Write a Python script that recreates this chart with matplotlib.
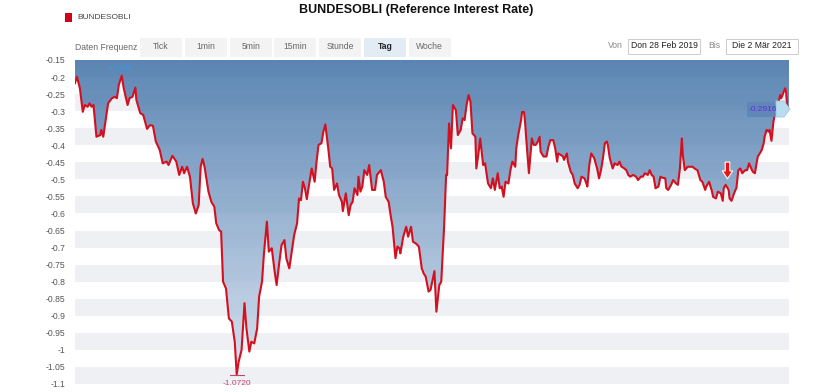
import matplotlib
matplotlib.use("Agg")
import matplotlib.pyplot as plt
import numpy as np
from matplotlib.patches import Rectangle, Polygon
from matplotlib.path import Path

plt.rcParams['font.family'] = ['Liberation Sans', 'DejaVu Sans']

# ---------------- data ----------------
title = "BUNDESOBLI (Reference Interest Rate)"
series_name = "BUNDESOBLI"
start_date = "2019-02-28"
end_date = "2021-03-02"

# day offsets from start_date
day_offsets = [
    0, 2, 5, 8, 10, 13, 15, 17, 19, 22, 26, 27, 29, 32, 34, 38, 41, 43, 45, 48,
    50, 54, 56, 59, 62, 63, 67, 70, 74, 77, 80, 83, 87, 90, 94, 96, 100, 104, 107, 110,
    112, 115, 118, 121, 124, 127, 129, 131, 133, 137, 140, 143, 145, 148,
    150, 152, 155, 158, 161, 164, 166, 168, 171, 174, 176, 179, 181, 184, 187, 189, 192, 194, 197, 199,
    202, 205, 207, 209, 212, 215, 217, 220, 222, 225, 228, 230, 232, 234, 236, 238, 240, 243, 246, 248,
    250, 253, 255, 257, 260, 262, 264, 266, 269, 271, 274, 275, 278, 281, 283, 285, 287, 290, 291, 293,
    295, 297,
    300, 302, 305, 308, 310, 314, 317, 319, 322, 324, 326, 329, 331, 333, 334, 337, 340, 342, 345, 347,
    350, 353, 356, 358, 360, 363, 365, 369, 371, 374, 376, 379, 381, 382, 384, 386, 388, 391, 393, 396,
    398, 400, 402, 404, 406, 408, 411, 412, 414, 416, 419, 421, 424, 427, 429, 431, 434, 436,
    438, 440, 442, 445, 447, 449, 452, 453, 455, 458, 459, 461, 462, 464, 466, 469, 471, 473, 475, 477,
    478, 481, 484, 486, 488, 491, 493, 495, 496, 499, 501, 502, 505, 506, 509, 511, 513, 516, 518, 520,
    523, 525, 526, 528, 530, 533, 536, 538, 540, 542, 544, 546, 547, 549, 552, 554, 557, 559, 561, 563,
    566, 568, 570, 573, 576, 578, 581,
    583, 585, 588, 590, 592, 594, 596, 599, 601, 603, 606, 607, 609, 612, 614, 617, 619, 621, 623, 624,
    626, 629, 631, 634, 636, 639, 642, 644, 647, 648, 651, 654, 655, 658, 660, 663, 665, 666, 668, 671,
    672, 674, 676, 678, 679, 681, 683, 685, 688, 690, 692, 695, 696, 698, 700, 701, 703, 705, 707, 708,
    710, 712, 713, 715, 717, 719, 720, 722, 724, 725, 727, 729, 730, 731, 733,
]

rates = [
    -0.218, -0.199, -0.233, -0.302, -0.282, -0.287, -0.277, -0.287, -0.282, -0.375,
    -0.370, -0.355, -0.375, -0.316, -0.277, -0.262, -0.258, -0.262, -0.223, -0.196,
    -0.233, -0.282, -0.262, -0.258, -0.231, -0.267, -0.306, -0.311, -0.352, -0.341,
    -0.343, -0.389, -0.414, -0.453, -0.448, -0.458, -0.431, -0.448, -0.487, -0.463,
    -0.482, -0.463, -0.492, -0.570, -0.600, -0.575, -0.463, -0.440, -0.463, -0.536,
    -0.566, -0.580, -0.629, -0.649,
    -0.653, -0.800, -0.820, -0.908, -0.917, -0.976, -1.072, -1.035, -1.000, -0.863,
    -0.937, -1.005, -0.976, -0.981, -0.937, -0.844, -0.800, -0.717, -0.624, -0.712,
    -0.702, -0.771, -0.810, -0.761, -0.693, -0.678, -0.732, -0.761, -0.722, -0.663,
    -0.629, -0.556, -0.561, -0.507, -0.526, -0.558, -0.521, -0.468, -0.507, -0.448,
    -0.399, -0.394, -0.360, -0.339, -0.409, -0.463, -0.468, -0.531, -0.512, -0.546,
    -0.566, -0.593, -0.541, -0.605, -0.575, -0.566, -0.526, -0.546, -0.492, -0.536,
    -0.521, -0.473,
    -0.487, -0.458, -0.531, -0.531, -0.487, -0.473, -0.507, -0.551, -0.566, -0.605,
    -0.639, -0.731, -0.697, -0.702, -0.717, -0.668, -0.639, -0.668, -0.639, -0.683,
    -0.688, -0.697, -0.761, -0.776, -0.785, -0.829, -0.824, -0.769, -0.888, -0.810,
    -0.800, -0.634, -0.487, -0.487, -0.336, -0.409, -0.282, -0.297, -0.370, -0.355,
    -0.321, -0.326, -0.282, -0.253, -0.272, -0.365, -0.375, -0.468, -0.429, -0.380,
    -0.458, -0.453, -0.512, -0.526, -0.497, -0.531, -0.482, -0.526,
    -0.521, -0.551, -0.507, -0.512, -0.473, -0.448, -0.463, -0.409, -0.370, -0.326,
    -0.302, -0.303, -0.331, -0.409, -0.482, -0.380, -0.399, -0.399, -0.390, -0.375,
    -0.419, -0.433, -0.433, -0.404, -0.385, -0.385, -0.409, -0.448, -0.424, -0.429,
    -0.433, -0.443, -0.424, -0.448, -0.478, -0.487, -0.512, -0.526, -0.516, -0.492,
    -0.497, -0.512, -0.521, -0.458, -0.424, -0.438, -0.468, -0.497, -0.473, -0.438,
    -0.394, -0.389, -0.399, -0.438, -0.468, -0.453, -0.458, -0.448, -0.463, -0.466,
    -0.473, -0.487, -0.492, -0.487, -0.492, -0.502, -0.492,
    -0.492, -0.482, -0.487, -0.473, -0.487, -0.492, -0.526, -0.521, -0.492, -0.495,
    -0.497, -0.526, -0.531, -0.516, -0.502, -0.512, -0.516, -0.468, -0.380, -0.429,
    -0.473, -0.463, -0.463, -0.463, -0.468, -0.473, -0.502, -0.507, -0.531, -0.521,
    -0.507, -0.536, -0.551, -0.556, -0.536, -0.541, -0.563, -0.526, -0.516, -0.531,
    -0.556, -0.563, -0.546, -0.531, -0.526, -0.473, -0.468, -0.482, -0.473, -0.473,
    -0.453, -0.473, -0.478, -0.482, -0.448, -0.433, -0.424, -0.414, -0.394, -0.375,
    -0.355, -0.360, -0.355, -0.387, -0.331, -0.302, -0.282, -0.277, -0.253, -0.262,
    -0.248, -0.233, -0.243, -0.282, -0.2916,
]

y_ticks = [-0.15, -0.2, -0.25, -0.3, -0.35, -0.4, -0.45, -0.5, -0.55, -0.6, -0.65,
           -0.7, -0.75, -0.8, -0.85, -0.9, -0.95, -1, -1.05, -1.1]
freq_buttons = ["Tick", "1min", "5min", "15min", "Stunde", "Tag", "Woche"]
active_button = "Tag"
max_label = "-0.1960"
min_label = "-1.0720"
last_label = "-0.2916"
von_text = "Don 28 Feb 2019"
bis_text = "Die 2 Mär 2021"

# ---------------- figure ----------------
W, H = 830, 392
fig = plt.figure(figsize=(W / 100, H / 100), dpi=100)
fig.patch.set_facecolor("white")

def fx(x):
    return x / W

def fy(y):
    return 1 - y / H

ax_l, ax_r, ax_t, ax_b = 75, 789, 60, 384
ax = fig.add_axes([fx(ax_l), fy(ax_b), (ax_r - ax_l) / W, (ax_b - ax_t) / H])

x = np.array(day_offsets, dtype=float)
y = np.array(rates, dtype=float)
ymin, ymax = -1.1, -0.15
ax.set_xlim(0, 733)
ax.set_ylim(ymin, ymax)

# alternating bands
for i in range(len(y_ticks) - 1):
    if i % 2 == 0:
        lo, hi = y_ticks[i + 1], y_ticks[i]
        ax.axhspan(lo, hi, color="#eef0f3", lw=0, zorder=0)

# gradient fill between line and the top
top_c = np.array([70, 118, 170]) / 255
bot_c = np.array([216, 227, 241]) / 255
t = np.linspace(0, 1, 256)[:, None]
grad = top_c[None, :] * (1 - t[..., None]) + bot_c[None, :] * t[..., None]
grad = np.repeat(grad, 2, axis=1)
im = ax.imshow(grad, extent=[0, 733, ymin, ymax], aspect="auto", origin="upper",
               zorder=1, alpha=0.88, interpolation="bilinear")
poly = ax.fill_between(x, y, ymax, color="none", lw=0)
clip_path = poly.get_paths()[0]
im.set_clip_path(clip_path, transform=ax.transData)

ax.plot(x, y, color="#d3101f", lw=1.5, zorder=3, solid_joinstyle="round")

# axes styling
for s in ax.spines.values():
    s.set_visible(False)
ax.set_xticks([])
ax.set_yticks(y_ticks)
ax.set_yticklabels(["%g" % v for v in y_ticks])
ax.tick_params(axis="y", length=0, pad=7, labelsize=6.2, labelcolor="#555555")

# annotations on data
imin = int(np.argmin(y))
ax.text(x[imin], y[imin] - 0.016, min_label, color="#c24468", fontsize=6,
        ha="center", va="top", zorder=5)
ax.plot([x[imin] - 7, x[imin] + 7], [y[imin] - 0.002] * 2, color="#c24468", lw=0.8, zorder=5)
imax = int(np.argmax(y))
ax.text(x[imax] - 2, y[imax] + 0.01, max_label, color="#3f9ae6", fontsize=5.5,
        ha="center", va="bottom", zorder=5, alpha=0.85)

# red down arrow marker
arrow_path = Path([(-0.22, 1), (0.22, 1), (0.22, 0.15), (0.5, 0.15), (0, -0.6),
                   (-0.5, 0.15), (-0.22, 0.15), (-0.22, 1)], closed=True)
ax.plot([669], [-0.478], marker=arrow_path, markersize=15, color="#ee1111",
        markeredgecolor="white", markeredgewidth=0.8, zorder=6, clip_on=False)

# last value flag
fig.patches.append(Rectangle((fx(747), fy(117)), 31 / W, 15 / H, transform=fig.transFigure,
                             facecolor="#5d86b8", edgecolor="none", alpha=0.9, zorder=10))
fig.patches.append(Polygon([(fx(776), fy(101)), (fx(784), fy(101)), (fx(790), fy(109)),
                            (fx(784), fy(117)), (fx(776), fy(117))], closed=True,
                           transform=fig.transFigure, facecolor="#b9dcee",
                           edgecolor="#9ccbe3", lw=0.6, zorder=11))
fig.text(fx(763), fy(109.5), last_label, color="#6a2be0", fontsize=6, ha="center",
         va="center", zorder=12)

# title & legend
fig.text(fx(416), fy(9.5), title, fontsize=9.0, fontweight="bold", ha="center", va="center",
         color="#111111")
fig.patches.append(Rectangle((fx(65), fy(21.5)), 7 / W, 8 / H, transform=fig.transFigure,
                             facecolor="#d0021b", edgecolor="none"))
fig.text(fx(77), fy(17.5), series_name, fontsize=6, ha="left", va="center", color="#444444")

# toolbar
fig.text(fx(75), fy(47.5), "Daten Frequenz", fontsize=6.2, ha="left", va="center", color="#666666")
bx = 140
for lab in freq_buttons:
    active = lab == active_button
    fig.patches.append(Rectangle((fx(bx), fy(57)), 42 / W, 19 / H, transform=fig.transFigure,
                                 facecolor="#e3ebf5" if active else "#f3f3f3", edgecolor="none"))
    fig.text(fx(bx + 21), fy(46.5), lab, fontsize=6.2, ha="center", va="center",
             color="#222222" if active else "#666666",
             fontweight="bold" if active else "normal")
    bx += 44.8

fig.text(fx(608), fy(46), "Von", fontsize=6.2, ha="left", va="center", color="#888888")
fig.patches.append(Rectangle((fx(628), fy(54)), 72 / W, 15 / H, transform=fig.transFigure,
                             facecolor="white", edgecolor="#cccccc", lw=0.7))
fig.text(fx(664), fy(46), von_text, fontsize=6.2, ha="center", va="center", color="#222222")
fig.text(fx(708), fy(46), "Bis", fontsize=6.2, ha="left", va="center", color="#888888")
fig.patches.append(Rectangle((fx(726), fy(54)), 72 / W, 15 / H, transform=fig.transFigure,
                             facecolor="white", edgecolor="#cccccc", lw=0.7))
fig.text(fx(762), fy(46), bis_text, fontsize=6.2, ha="center", va="center", color="#222222")

fig.savefig("out.png", dpi=100, facecolor="white")
